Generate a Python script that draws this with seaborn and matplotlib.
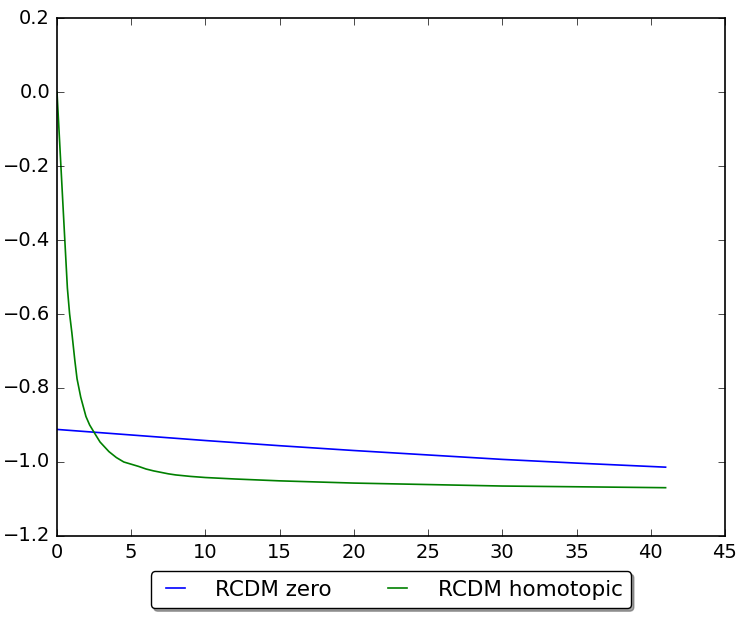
import numpy as np
import pandas as pd
import matplotlib
matplotlib.use('Agg')
import matplotlib.pyplot as plt
import seaborn as sns

plt.style.use('classic')

# values
zero_x = [0, 5, 10, 15, 20, 25, 30, 35, 41]
zero_y = [-0.912, -0.927, -0.942, -0.956, -0.969, -0.981, -0.993, -1.003, -1.014]

homo_x = [0, 0.25, 0.5, 0.7, 0.85, 1.0, 1.2, 1.35, 1.6, 1.95, 2.2, 2.5,
          2.9, 3.5, 4.0, 4.5, 5, 5.5, 6, 6.5, 7, 7.5, 8, 9, 10, 12, 15,
          20, 25, 30, 35, 41]
homo_y = [0.0, -0.19, -0.38, -0.53, -0.6, -0.65, -0.725, -0.775, -0.825,
          -0.877, -0.9, -0.92, -0.946, -0.972, -0.988, -1.0, -1.006, -1.012,
          -1.019, -1.024, -1.028, -1.032, -1.035, -1.039, -1.042, -1.046,
          -1.051, -1.057, -1.061, -1.065, -1.067, -1.0695]

labels = ['RCDM zero', 'RCDM homotopic']

df = pd.concat([
    pd.DataFrame({'x': zero_x, 'y': zero_y, 'method': labels[0]}),
    pd.DataFrame({'x': homo_x, 'y': homo_y, 'method': labels[1]}),
])

fig = plt.figure(figsize=(7.47, 6.22), dpi=100, facecolor='white')
ax = fig.add_subplot(111)
fig.subplots_adjust(left=0.0763, right=0.9705, top=0.971, bottom=0.1383)

sns.lineplot(data=df, x='x', y='y', hue='method', palette=['b', 'g'],
             estimator=None, sort=True, linewidth=1.2, ax=ax)

ax.set_xlim(0, 45)
ax.set_ylim(-1.2, 0.2)
ax.set_xlabel('')
ax.set_ylabel('')
ax.tick_params(labelsize=14, length=5, pad=5)
for s in ax.spines.values():
    s.set_linewidth(1.2)

leg = ax.legend(loc='upper center', bbox_to_anchor=(0.5, -0.068), ncol=2,
                fancybox=True, shadow=True, borderaxespad=0, fontsize=15.5,
                handlelength=1.5, handletextpad=1.1, columnspacing=2.3)
for h in leg.get_lines():
    h.set_linewidth(1.2)

plt.savefig('out.png', dpi=100, facecolor='white')
